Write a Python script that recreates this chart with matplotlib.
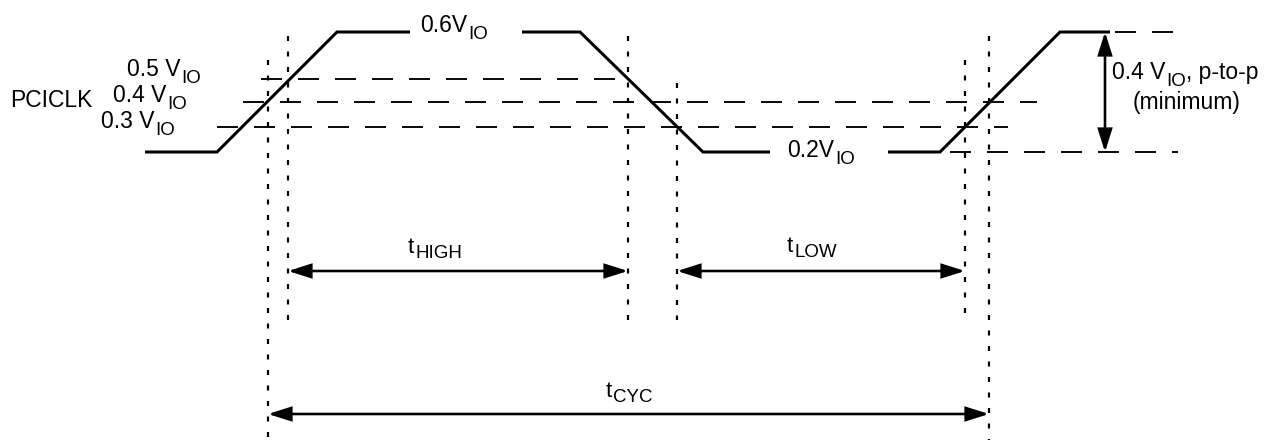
import matplotlib
matplotlib.use('Agg')
import matplotlib.pyplot as plt
from matplotlib.patches import FancyArrowPatch

plt.rcParams['font.family'] = ['Liberation Sans', 'DejaVu Sans']
plt.rcParams['lines.scale_dashes'] = False

W, H = 1265, 440
DPI = 100
PX = 72.0 / DPI  # points per pixel

# ---------------- data (pixel coordinates, y grows downward) ----------------
wave_segments_x = [[145, 217, 337, 410], [522, 580, 703, 770], [888, 940, 1060, 1110]]
wave_segments_y = [[152, 152, 32, 32], [32, 32, 152, 152], [152, 152, 32, 32]]

ref_levels_y = [32, 79, 102, 127, 152]
ref_levels_x0 = [1115, 261, 243, 217, 950]
ref_levels_x1 = [1178, 630, 1037, 1008, 1178]

guide_x = [268, 288, 628, 677, 965, 989]
guide_y0 = [60, 36, 36, 83, 60, 36]
guide_y1 = [440, 320, 320, 320, 320, 440]

span_x0 = [288, 677, 268]
span_x1 = [628, 965, 989]
span_y = [271, 271, 414]
span_names = ['HIGH', 'LOW', 'CYC']
span_label_x = [408, 787, 606]
span_label_y = [253, 252, 397]

swing_x = 1105
swing_y0, swing_y1 = 32, 152

level_labels = [('0.5 V', 'IO', ''), ('0.4 V', 'IO', ''), ('0.3 V', 'IO', ''),
                ('0.6V', 'IO', ''), ('0.2V', 'IO', ''), ('0.4 V', 'IO', ', p-to-p')]
level_label_x = [127, 113, 101, 420, 787, 1112]
level_label_y = [76, 102, 128, 32, 157, 79]

# ---------------- figure ----------------
fig = plt.figure(figsize=(W / DPI, H / DPI), dpi=DPI)
ax = fig.add_axes([0, 0, 1, 1])
ax.set_xlim(0, W)
ax.set_ylim(H, 0)
ax.axis('off')

MAIN = 16.5
SUB = 13.5

# dashed reference levels
for y, x0, x1 in zip(ref_levels_y, ref_levels_x0, ref_levels_x1):
    ax.plot([x0, x1], [y, y], color='black', lw=1.9 * PX,
            linestyle=(0, (21 * PX, 16 * PX)), solid_capstyle='butt', dash_capstyle='butt')

# dotted timing guides
for x, y0, y1 in zip(guide_x, guide_y0, guide_y1):
    ax.plot([x, x], [y0, y1], color='black', lw=2.2 * PX,
            linestyle=(0, (5 * PX, 10.5 * PX)), dash_capstyle='butt')

# waveform
for xs, ys in zip(wave_segments_x, wave_segments_y):
    ax.plot(xs, ys, color='black', lw=3.0 * PX, solid_joinstyle='miter',
            solid_capstyle='butt', zorder=5)


def darrow(p0, p1):
    a = FancyArrowPatch(p0, p1,
                        arrowstyle='<|-|>,head_length=%f,head_width=%f' % (19 * PX, 6 * PX),
                        mutation_scale=1, lw=2.6 * PX, color='black',
                        shrinkA=0, shrinkB=0, zorder=6, joinstyle='miter')
    ax.add_patch(a)


for x0, x1, y in zip(span_x0, span_x1, span_y):
    darrow((x0, y), (x1, y))
darrow((swing_x, swing_y0), (swing_x, swing_y1))

renderer = fig.canvas.get_renderer()


def rich(x, y, main, sub, tail='', size=MAIN, subsize=SUB, drop=6):
    t = ax.text(x, y, main, fontsize=size, ha='left', va='baseline')
    w = t.get_window_extent(renderer).width
    s = ax.text(x + w + 1, y + drop, sub, fontsize=subsize, ha='left', va='baseline')
    if tail:
        w2 = s.get_window_extent(renderer).width
        ax.text(x + w + 1 + w2, y, tail, fontsize=size, ha='left', va='baseline')


ax.text(10, 107, 'PCICLK', fontsize=MAIN, ha='left', va='baseline')
for (m, sb, tl), x, y in zip(level_labels, level_label_x, level_label_y):
    rich(x, y, m, sb, tl, drop=7)
ax.text(1187, 109, '(minimum)', fontsize=MAIN, ha='center', va='baseline')

for name, x, y in zip(span_names, span_label_x, span_label_y):
    rich(x, y, 't', name, size=16, subsize=13.5, drop=5)

fig.savefig('out.png', dpi=DPI)
